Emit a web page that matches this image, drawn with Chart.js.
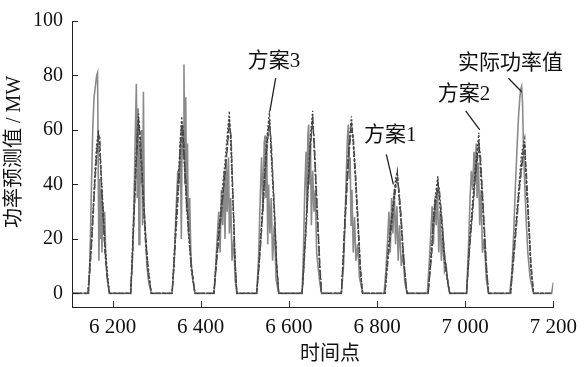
<!DOCTYPE html>
<html>
<head>
<meta charset="utf-8">
<script src="https://cdn.jsdelivr.net/npm/chart.js@4.4.0/dist/chart.umd.min.js"></script>
<style>
    html, body { margin: 0; padding: 0; background: #fff; }
    #wrap { width: 585px; height: 367px; }
</style>
</head>
<body>
<div id="wrap"><canvas id="powerChart"></canvas></div>
<script>
// tick labels
const xTicks = [6200, 6400, 6600, 6800, 7000, 7200];
const yTicks = [0, 20, 40, 60, 80, 100];

// measured power (time point / MW)
const actualX = [
    6108, 6144,
    6146, 6149, 6152, 6155, 6158, 6161, 6164, 6166, 6168, 6169, 6171, 6172, 6174, 6176, 6178, 6180, 6182, 6185, 6189, 6193,
    6241, 6245, 6248, 6250, 6252, 6254, 6256, 6258, 6260, 6262, 6264, 6266, 6268, 6270, 6272, 6275, 6278, 6282, 6288,
    6335, 6340, 6344, 6348, 6351, 6354, 6356, 6358, 6360, 6362, 6364, 6366, 6368, 6370, 6372, 6375, 6378, 6382, 6387,
    6430, 6434, 6438, 6441, 6444, 6447, 6450, 6453, 6455, 6458, 6460, 6463, 6465, 6468, 6471, 6475, 6478, 6482,
    6527, 6531, 6535, 6538, 6541, 6544, 6546, 6548, 6550, 6552, 6554, 6557, 6560, 6563, 6567, 6571, 6577,
    6630, 6633, 6636, 6639, 6641, 6643, 6645, 6647, 6649, 6651, 6654, 6657, 6660, 6663, 6666, 6670, 6674,
    6719, 6724, 6728, 6731, 6733, 6735, 6737, 6739, 6741, 6743, 6746, 6749, 6752, 6756, 6760, 6765, 6769,
    6816, 6820, 6824, 6827, 6830, 6833, 6836, 6839, 6842, 6845, 6848, 6851, 6855, 6859, 6863, 6868,
    6914, 6918, 6922, 6925, 6928, 6931, 6934, 6937, 6940, 6943, 6946, 6949, 6953, 6957, 6961, 6965,
    7003, 7007, 7011, 7014, 7017, 7020, 7022, 7025, 7027, 7030, 7033, 7036, 7039, 7043, 7048, 7053,
    7101, 7106, 7110, 7114, 7118, 7121, 7124, 7126, 7128, 7130, 7132, 7135, 7138, 7142, 7147, 7152, 7155,
    7196, 7200
];
const actualY = [
    0, 0,
    0, 15, 38, 60, 72, 76, 80, 81, 35, 12, 42, 20, 38, 15, 33, 22, 30, 12, 4, 0,
    0, 12, 30, 45, 62, 77, 35, 68, 18, 55, 40, 60, 25, 74, 30, 20, 10, 4, 0,
    0, 12, 30, 45, 40, 55, 20, 62, 50, 84, 40, 72, 30, 55, 22, 35, 12, 5, 0,
    0, 10, 22, 30, 15, 38, 25, 45, 20, 48, 30, 50, 22, 35, 12, 20, 5, 0,
    0, 12, 35, 50, 30, 55, 58, 35, 52, 18, 40, 22, 35, 12, 25, 5, 0,
    0, 15, 38, 52, 30, 58, 62, 40, 55, 25, 45, 30, 38, 15, 10, 4, 0,
    0, 10, 30, 48, 58, 62, 42, 50, 25, 38, 15, 28, 12, 18, 6, 2, 0,
    0, 8, 20, 30, 15, 35, 22, 38, 18, 32, 12, 25, 10, 15, 4, 0,
    0, 10, 22, 32, 18, 35, 25, 38, 15, 30, 12, 22, 8, 10, 3, 0,
    0, 15, 35, 45, 38, 52, 42, 55, 35, 48, 25, 38, 15, 20, 5, 0,
    0, 8, 22, 40, 55, 65, 72, 75, 76, 70, 55, 40, 28, 15, 6, 2, 0,
    0, 4
];

// forecast time points shared by the three schemes
const planX = [
    6108,
    6144, 6148, 6152, 6156, 6160, 6164, 6168, 6171, 6175, 6179, 6183, 6188, 6193,
    6241, 6244, 6247, 6250, 6253, 6256, 6259, 6262, 6266, 6270, 6275, 6281, 6288,
    6335, 6339, 6343, 6347, 6351, 6354, 6357, 6360, 6364, 6368, 6373, 6379, 6387,
    6430, 6435, 6440, 6445, 6450, 6455, 6460, 6465, 6469, 6472, 6475, 6478, 6482,
    6527, 6532, 6537, 6541, 6545, 6549, 6553, 6556, 6560, 6564, 6568, 6572, 6577,
    6630, 6634, 6638, 6642, 6645, 6648, 6651, 6654, 6658, 6662, 6666, 6670, 6674,
    6719, 6723, 6727, 6731, 6735, 6739, 6742, 6746, 6750, 6754, 6758, 6762, 6767,
    6818, 6822, 6826, 6830, 6834, 6838, 6842, 6846, 6850, 6854, 6858, 6863, 6868,
    6916, 6920, 6924, 6927, 6930, 6934, 6938, 6941, 6945, 6949, 6953, 6959, 6965,
    7003, 7007, 7011, 7015, 7019, 7023, 7027, 7031, 7035, 7039, 7043, 7048, 7053,
    7103, 7107, 7111, 7115, 7119, 7123, 7127, 7131, 7135, 7139, 7144, 7149, 7155,
    7196
];
const plan1 = [
    0,
    0, 8, 18, 30, 42, 52, 58, 55, 40, 28, 16, 6, 0,
    0, 10, 22, 34, 46, 55, 64, 60, 48, 35, 22, 8, 0,
    0, 10, 22, 34, 45, 55, 63, 58, 46, 34, 22, 10, 0,
    0, 10, 20, 28, 36, 44, 54, 64, 55, 40, 26, 12, 0,
    0, 10, 22, 32, 42, 52, 60, 64, 52, 40, 28, 12, 0,
    0, 10, 22, 34, 44, 52, 60, 65, 52, 38, 24, 10, 0,
    0, 12, 26, 38, 50, 58, 63, 56, 46, 34, 22, 10, 0,
    0, 8, 16, 22, 28, 34, 40, 44, 36, 28, 18, 8, 0,
    0, 8, 16, 24, 30, 36, 41, 36, 30, 22, 14, 6, 0,
    0, 10, 20, 28, 36, 44, 50, 56, 46, 36, 24, 10, 0,
    0, 8, 16, 24, 32, 40, 46, 52, 55, 40, 26, 10, 0,
    0
];
const plan2 = [
    0,
    0, 10, 20, 32, 45, 55, 60, 50, 42, 30, 18, 8, 0,
    0, 12, 24, 36, 50, 58, 66, 55, 45, 32, 20, 10, 0,
    0, 12, 24, 36, 48, 58, 65, 54, 44, 32, 20, 8, 0,
    0, 12, 22, 30, 40, 48, 58, 67, 50, 38, 24, 10, 0,
    0, 12, 24, 34, 45, 55, 62, 67, 50, 38, 24, 10, 0,
    0, 12, 24, 36, 46, 55, 62, 67, 50, 36, 22, 8, 0,
    0, 14, 28, 40, 52, 60, 65, 54, 44, 32, 20, 8, 0,
    0, 10, 18, 24, 30, 36, 42, 45, 34, 26, 16, 6, 0,
    0, 10, 18, 26, 32, 38, 43, 34, 28, 20, 12, 5, 0,
    0, 12, 22, 30, 38, 46, 53, 59, 44, 34, 22, 8, 0,
    0, 10, 18, 26, 34, 42, 50, 54, 57, 38, 24, 8, 0,
    0
];
const plan3 = [
    0,
    0, 7, 16, 28, 40, 50, 57, 58, 38, 26, 14, 5, 0,
    0, 9, 20, 32, 44, 60, 62, 58, 46, 33, 18, 7, 0,
    0, 9, 20, 30, 42, 52, 60, 62, 48, 36, 24, 9, 0,
    0, 9, 18, 26, 35, 45, 52, 62, 58, 42, 28, 12, 0,
    0, 9, 20, 30, 40, 50, 58, 62, 56, 42, 28, 12, 0,
    0, 9, 20, 32, 42, 50, 58, 63, 55, 40, 26, 12, 0,
    0, 10, 24, 36, 48, 56, 60, 58, 48, 36, 24, 10, 0,
    0, 7, 14, 20, 26, 32, 38, 42, 38, 30, 20, 8, 0,
    0, 7, 14, 22, 28, 34, 38, 39, 32, 24, 15, 6, 0,
    0, 9, 18, 26, 34, 42, 48, 54, 50, 38, 26, 11, 0,
    0, 7, 14, 22, 30, 38, 44, 50, 52, 44, 28, 12, 0,
    0
];

// callout labels, anchored in data units
const notes = [
    { text: '方案3', at: [6566, 85], from: [6570, 79], to: [6557, 67] },
    { text: '方案1', at: [6830, 58], from: [6821, 51], to: [6837, 40] },
    { text: '方案2', at: [6997, 73], from: [7001, 67], to: [7033, 60] },
    { text: '实际功率值', at: [7103, 84.5], from: [7098, 79], to: [7128, 74] }
];

const FONT = '"Liberation Serif", "Noto Sans CJK SC", serif';

function pairs(xs, ys) {
    return xs.map((x, i) => ({ x: x, y: ys[i] }));
}

function spaced(v) {
    return String(v).replace(/\B(?=(\d{3})+(?!\d))/g, ' ');
}

const extras = {
    id: 'extras',
    afterDraw(chart) {
        const ctx = chart.ctx;
        const xs = chart.scales.x, ys = chart.scales.y;
        const area = chart.chartArea;
        ctx.save();
        // inward tick marks
        ctx.strokeStyle = '#222';
        ctx.lineWidth = 1;
        ctx.beginPath();
        xTicks.forEach(v => {
            const px = Math.round(xs.getPixelForValue(v)) + 0.5;
            ctx.moveTo(px, area.bottom);
            ctx.lineTo(px, area.bottom - 6);
        });
        yTicks.forEach(v => {
            const py = Math.round(ys.getPixelForValue(v)) + 0.5;
            ctx.moveTo(area.left, py);
            ctx.lineTo(area.left + 6, py);
        });
        ctx.stroke();

        // callouts
        ctx.fillStyle = '#111';
        ctx.font = '21px ' + FONT;
        ctx.textAlign = 'center';
        ctx.textBaseline = 'middle';
        ctx.lineWidth = 1.3;
        notes.forEach(n => {
            ctx.fillText(n.text, xs.getPixelForValue(n.at[0]), ys.getPixelForValue(n.at[1]));
            ctx.beginPath();
            ctx.moveTo(xs.getPixelForValue(n.from[0]), ys.getPixelForValue(n.from[1]));
            ctx.lineTo(xs.getPixelForValue(n.to[0]), ys.getPixelForValue(n.to[1]));
            ctx.stroke();
        });

        // axis titles
        ctx.font = '20px ' + FONT;
        ctx.fillText('时间点', 330, 355);
        ctx.translate(15, 152);
        ctx.rotate(-Math.PI / 2);
        ctx.fillText('功率预测值 / MW', 0, 0);
        ctx.restore();
    }
};

new Chart(document.getElementById('powerChart'), {
    type: 'line',
    data: {
        datasets: [
            {
                label: '实际功率值',
                data: pairs(actualX, actualY),
                borderColor: '#8a8a8a',
                borderWidth: 1.6,
                order: 4
            },
            {
                label: '方案1',
                data: pairs(planX, plan1),
                borderColor: '#333333',
                borderWidth: 1.3,
                borderDash: [4, 2],
                order: 3
            },
            {
                label: '方案2',
                data: pairs(planX, plan2),
                borderColor: '#404040',
                borderWidth: 1.3,
                borderDash: [2, 2],
                order: 2
            },
            {
                label: '方案3',
                data: pairs(planX, plan3),
                borderColor: '#505050',
                borderWidth: 1.3,
                borderDash: [6, 2, 2, 2],
                order: 1
            }
        ]
    },
    options: {
        responsive: true,
        maintainAspectRatio: false,
        animation: false,
        parsing: false,
        elements: { point: { radius: 0 }, line: { tension: 0 } },
        layout: { padding: { top: 15, right: 28, bottom: 0, left: 0 } },
        plugins: { legend: { display: false }, tooltip: { enabled: false } },
        scales: {
            x: {
                type: 'linear',
                min: 6108,
                max: 7200,
                afterBuildTicks: s => { s.ticks = xTicks.map(v => ({ value: v })); },
                afterFit: s => { s.height = 60; },
                grid: { drawOnChartArea: false, drawTicks: false },
                border: { display: true, color: '#222', width: 1 },
                ticks: {
                    padding: 8,
                    maxRotation: 0,
                    color: '#111',
                    font: { family: FONT, size: 21 },
                    callback: v => spaced(v)
                }
            },
            y: {
                type: 'linear',
                min: -5,
                max: 100,
                afterBuildTicks: s => { s.ticks = yTicks.map(v => ({ value: v })); },
                afterFit: s => { s.width = 72; },
                grid: { drawOnChartArea: false, drawTicks: false },
                border: { display: true, color: '#222', width: 1 },
                ticks: {
                    padding: 9,
                    color: '#111',
                    font: { family: FONT, size: 20 }
                }
            }
        }
    },
    plugins: [extras]
});
</script>
</body>
</html>
